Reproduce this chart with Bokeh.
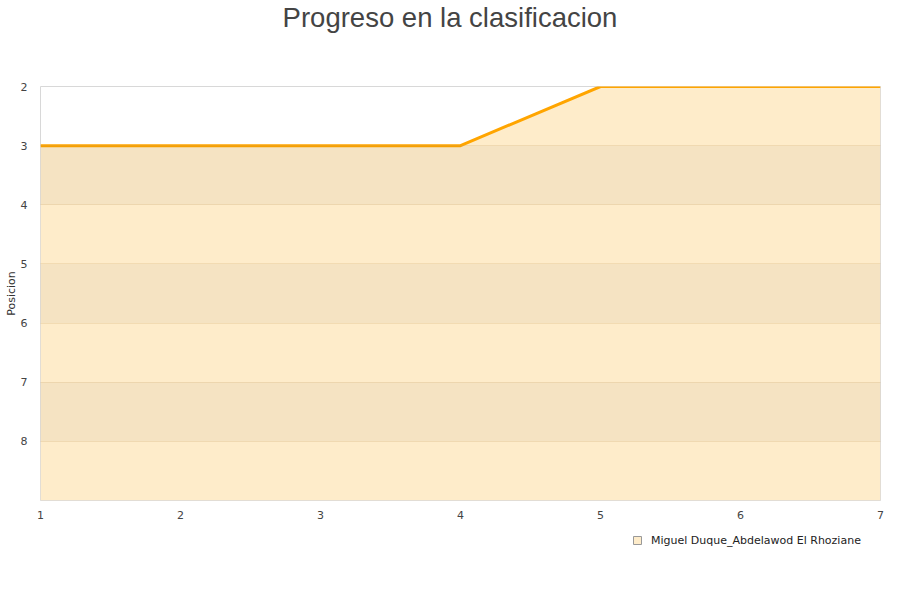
from bokeh.plotting import figure
from bokeh.layouts import column
from bokeh.models import Range1d, FixedTicker, Legend, LegendItem, Label
from bokeh.embed import file_html
from bokeh.resources import INLINE

title_text = "Progreso en la clasificacion"
y_label = "Posicion"
series_name = "Miguel Duque_Abdelawod El Rhoziane"
jornadas = [1, 2, 3, 4, 5, 6, 7]
posiciones = [3, 3, 3, 3, 2, 2, 2]
y_ticks = [2, 3, 4, 5, 6, 7, 8]
x_ticks = [1, 2, 3, 4, 5, 6, 7]
y_bottom = 9

W = 884

def blank(h, xr=(0, 1), yr=(0, 1)):
    f = figure(width=W, height=h, output_backend="svg", toolbar_location=None,
               x_range=Range1d(*xr), y_range=Range1d(*yr),
               x_axis_location=None, y_axis_location=None, min_border=0)
    f.grid.visible = False
    f.outline_line_color = None
    f.background_fill_color = "white"
    f.border_fill_color = "white"
    return f

# header with title (frame is aligned with the chart frame by the column)
head = blank(70)
head.add_layout(Label(x=409.5, y=53, x_units="screen", y_units="screen", text=title_text,
                      text_align="center", text_baseline="alphabetic",
                      text_font="Liberation Sans", text_font_size="27.5px",
                      text_color="#444444"))

# main chart
p = figure(width=W, height=460, output_backend="svg", toolbar_location=None,
           x_range=Range1d(1, 7), y_range=Range1d(y_bottom, 2),
           min_border_left=40, min_border_right=4, min_border_top=16, min_border_bottom=30)
p.outline_line_color = "#d8d8d8"
p.background_fill_color = "white"
p.border_fill_color = "white"

area = p.varea(x=jornadas, y1=posiciones, y2=[y_bottom] * len(jornadas),
               fill_color="#feecca", fill_alpha=1)
line = p.line(jornadas, posiciones, line_color="#ffa500", line_width=3)

p.xgrid.visible = False
p.ygrid.ticker = FixedTicker(ticks=y_ticks)
p.ygrid.level = "overlay"
p.ygrid.grid_line_color = "#c8a060"
p.ygrid.grid_line_alpha = 0.22
p.ygrid.band_fill_color = "black"
p.ygrid.band_fill_alpha = 0.035

for ax in (p.xaxis, p.yaxis):
    ax.axis_line_color = None
    ax.major_tick_line_color = None
    ax.minor_tick_line_color = None
    ax.major_label_text_font = "DejaVu Sans"
    ax.major_label_text_font_size = "11px"
    ax.major_label_text_color = "#444444"
p.xaxis.ticker = FixedTicker(ticks=x_ticks)
p.yaxis.ticker = FixedTicker(ticks=y_ticks)
p.xaxis.major_label_standoff = 4
p.yaxis.major_label_standoff = 7
p.yaxis.axis_label = y_label
p.yaxis.axis_label_text_font = "DejaVu Sans"
p.yaxis.axis_label_text_font_size = "11px"
p.yaxis.axis_label_text_font_style = "normal"
p.yaxis.axis_label_text_color = "#333333"
p.yaxis.axis_label_standoff = 0

# legend strip: series drawn as markers outside this strip's view, only its key shows
leg = blank(54, xr=(-2, -1), yr=(-2, -1))
key = leg.scatter(jornadas, posiciones, marker="square", size=8, fill_color="#feecca",
                  line_color="#999999", line_width=1)
legend = Legend(items=[LegendItem(label=series_name, renderers=[key])],
                location=(587, 34), orientation="horizontal",
                border_line_color=None, background_fill_alpha=0,
                label_text_font="DejaVu Sans", label_text_font_size="11px",
                label_text_color="#222222", glyph_width=20, glyph_height=20,
                padding=0, margin=0, label_standoff=4)
leg.add_layout(legend)

layout = column(head, p, leg, spacing=0)
open("out.html", "w").write(file_html(layout, INLINE))
